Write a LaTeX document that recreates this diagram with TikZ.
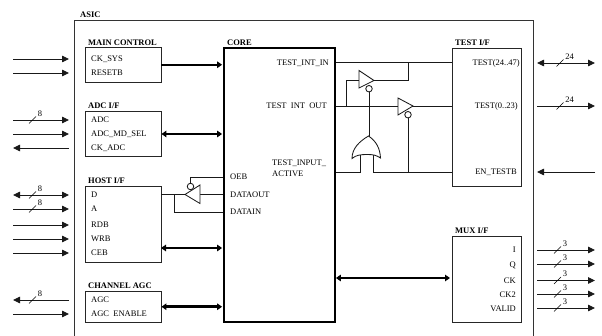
\documentclass[tikz,border=0pt]{standalone}
\usepackage{fontspec}
\setmainfont{Liberation Serif}
\usetikzlibrary{arrows.meta}
\newcommand{\busmark}[4][7.5]{\draw[thin] (#2-3.5,#3+3.5) -- (#2+3.5,#3-3.5); \node[pin,anchor=center] at (#2+#1,#3-6.5) {#4};}
\tikzset{
  block/.style={draw=black!85,line width=0.9pt,fill=white,inner sep=0pt},
  pin/.style={inner sep=0pt,text height=5.6pt,text depth=0pt,font=\fontsize{8.5}{9}\selectfont},
  title/.style={pin,anchor=west,font=\fontsize{8.5}{9}\selectfont\bfseries},
  wire/.style={line width=0.85pt,black!90},
  sig/.style={wire,-{Triangle[length=7pt,width=6.5pt]}},
  bisig/.style={wire,{Triangle[length=7pt,width=6.5pt]}-{Triangle[length=7pt,width=6.5pt]}},
  bus/.style={line width=1.9pt,-{Triangle[length=5pt,width=6.5pt]},shorten >=1pt},
  bibus/.style={bus,{Triangle[length=5pt,width=6.5pt]}-{Triangle[length=5pt,width=6.5pt]}},
  tribuf/.style={draw=black!90,line width=0.85pt,fill=white,line join=miter},
  bubble/.style={circle,draw=black!90,line width=0.85pt,fill=white,minimum size=6.5pt,inner sep=0pt},
}
\begin{document}
\begin{tikzpicture}[x=1pt,y=-1pt]
  \useasboundingbox (0,0) rectangle (602,336);
  % chip outline runs off the bottom
  \draw[line width=0.9pt,black!80] (74,336) -- (74,20) -- (533,20) -- (533,336);
  \node[title] (asic) at (80,15) {ASIC};

  % blocks
  \node[block,minimum width=76pt,minimum height=34.5pt] (main) at (123,64.75) {};
  \node[block,minimum width=76pt,minimum height=45pt] (adc) at (123,134) {};
  \node[block,minimum width=76pt,minimum height=76pt] (host) at (123,224) {};
  \node[block,minimum width=76pt,minimum height=31.5pt] (agc) at (123,306.75) {};
  \node[block,draw=black,line width=1.8pt,minimum width=111pt,minimum height=274pt] (core) at (279.5,185) {};
  \node[block,minimum width=69.5pt,minimum height=138pt] (test) at (486.75,117) {};
  \node[block,minimum width=69.5pt,minimum height=86pt] (mux) at (486.75,279.7) {};

  \node[title] (maint) at (88,43) {MAIN CONTROL};
  \node[title] (adct) at (88,106) {ADC I/F};
  \node[title] (hostt) at (88,181) {HOST I/F};
  \node[title] (agct) at (88,286) {CHANNEL AGC};
  \node[title] (coret) at (227,43) {CORE};
  \node[title] (testt) at (455,43) {TEST I/F};
  \node[title] (muxt) at (455,231) {MUX I/F};

  % pins on the left blocks
  \foreach \n/\y/\t in {cksys/59/CK\_SYS,resetb/73/RESETB,adcin/120/ADC,mdsel/134/ADC\_MD\_SEL,ckadc/148/CK\_ADC,
    d/195/D,a/209/A,rdb/225/RDB,wrb/239/WRB,ceb/253/CEB,agcp/300/AGC,agcen/314/AGC\ \ ENABLE}
    \node[pin,anchor=west] (\n) at (91,\y) {\t};

  % pins on the core
  \node[pin,anchor=east] (tin) at (329,63) {TEST\_INT\_IN};
  \node[pin,anchor=east] (tout) at (327,106) {TEST\ \ INT\ \ OUT};
  \node[pin,anchor=west] (tact) at (272,163) {TEST\_INPUT\_};
  \node[pin,anchor=west] (tact2) at (272,174) {ACTIVE};
  \node[pin,anchor=west] (oeb) at (230,177) {OEB};
  \node[pin,anchor=west] (dout) at (230,194.5) {DATAOUT};
  \node[pin,anchor=west] (din) at (230,212) {DATAIN};

  % pins on the right blocks
  \node[pin,anchor=east] (t2447) at (520,63) {TEST(24..47)};
  \node[pin,anchor=east] (t023) at (518,106) {TEST(0..23)};
  \node[pin,anchor=east] (entest) at (517,172) {EN\_TESTB};
  \foreach \n/\y/\t in {mi/250/I,mq/265/Q,mck/281/CK,mck2/295/CK2,mvalid/309/VALID}
    \node[pin,anchor=east] (\n) at (516,\y) {\t};

  % outside signals, left
  \foreach \n in {cksys,resetb,adcin,mdsel,a,rdb,wrb,ceb,agcen}
    \draw[sig] (13,0 |- \n.west) -- (69,0 |- \n.west);
  \foreach \n in {ckadc,agcp}
    \draw[sig] (69,0 |- \n.west) -- (13,0 |- \n.west);
  \draw[bisig] (13,0 |- d.west) -- (69,0 |- d.west);
  \busmark{32.5}{120}{8}
  \busmark{32.5}{195}{8}
  \busmark{32.5}{209}{8}
  \busmark{32.5}{300}{8}

  % outside signals, right
  \draw[bisig] (537,0 |- t2447.east) -- (595,0 |- t2447.east);
  \draw[sig] (537,0 |- t023.east) -- (595,0 |- t023.east);
  \draw[sig] (595,0 |- entest.east) -- (537,0 |- entest.east);
  \busmark[9.5]{560}{63}{24}
  \busmark[9.5]{560}{106}{24}
  \foreach \n/\y in {mi/250,mq/264,mck/280.5,mck2/294,mvalid/308}{
    \draw[sig] (537,\y) -- (595,\y);
    \busmark{557.5}{\y}{3}
  }

  % buses to the core
  \coordinate (hostio) at (161,248);
  \coordinate (muxio) at (451,278);
  \draw[bus] (main.east) -- (core.west |- main.east);
  \draw[bibus] (adc.east) -- (core.west |- adc.east);
  \draw[bibus] (hostio) -- (core.west |- hostio);
  \draw[bibus,line width=2.6pt] (agc.east) -- (core.west |- agc.east);
  \draw[bibus,line width=2.1pt] (core.east |- muxio) -- (muxio);

  % host tristate
  \coordinate (hostd) at (161,194.5);
  \coordinate (dinj) at (174,194.5);
  \draw[wire] (hostd) -- (core.west |- hostd);
  \draw[wire] (dinj) |- (core.west |- din.west);
  \draw[wire] (190.5,186.5) |- (core.west |- oeb.west);
  \draw[tribuf] (185,194.5) -- (200,185) -- (200,203.5) -- cycle;
  \node[bubble] (hostoe) at (190.5,186.5) {};

  % test wires
  \coordinate (tinj) at (408,62.5);
  \coordinate (toutj) at (346,106);
  \coordinate (actl) at (360,172);
  \coordinate (actr) at (373.5,172);
  \coordinate (actj) at (408,172);
  \draw[wire] (core.east |- tinj) -- (test.west |- tinj);
  \draw[wire] (core.east |- toutj) -- (test.west |- toutj);
  \draw[wire] (core.east |- actl) -- (actl) -- (360,155);
  \draw[wire] (373.5,155) -- (actr) -- (test.west |- actr);
  \draw[wire] (374,80.5) -| (tinj);
  \draw[wire] (359,80.5) -| (toutj);
  \draw[wire] (369,91) -- (369,137);
  \draw[wire] (408,117) -- (actj);

  % tristates and or gate
  \draw[tribuf] (359,70.5) -- (374,80.5) -- (359,88) -- cycle;
  \node[bubble] (buf1oe) at (369,88.7) {};
  \draw[tribuf] (398,98) -- (413,106) -- (398,115) -- cycle;
  \node[bubble] (buf2oe) at (408,114.7) {};
  \draw[tribuf] (368.5,136) .. controls (376,141) and (380,148) .. (380.5,158)
    .. controls (376,155) and (373,154.5) .. (367,154.5)
    .. controls (361,154.5) and (356,155) .. (352,158.5)
    .. controls (352,148) and (360,141) .. cycle;
\end{tikzpicture}
\end{document}
